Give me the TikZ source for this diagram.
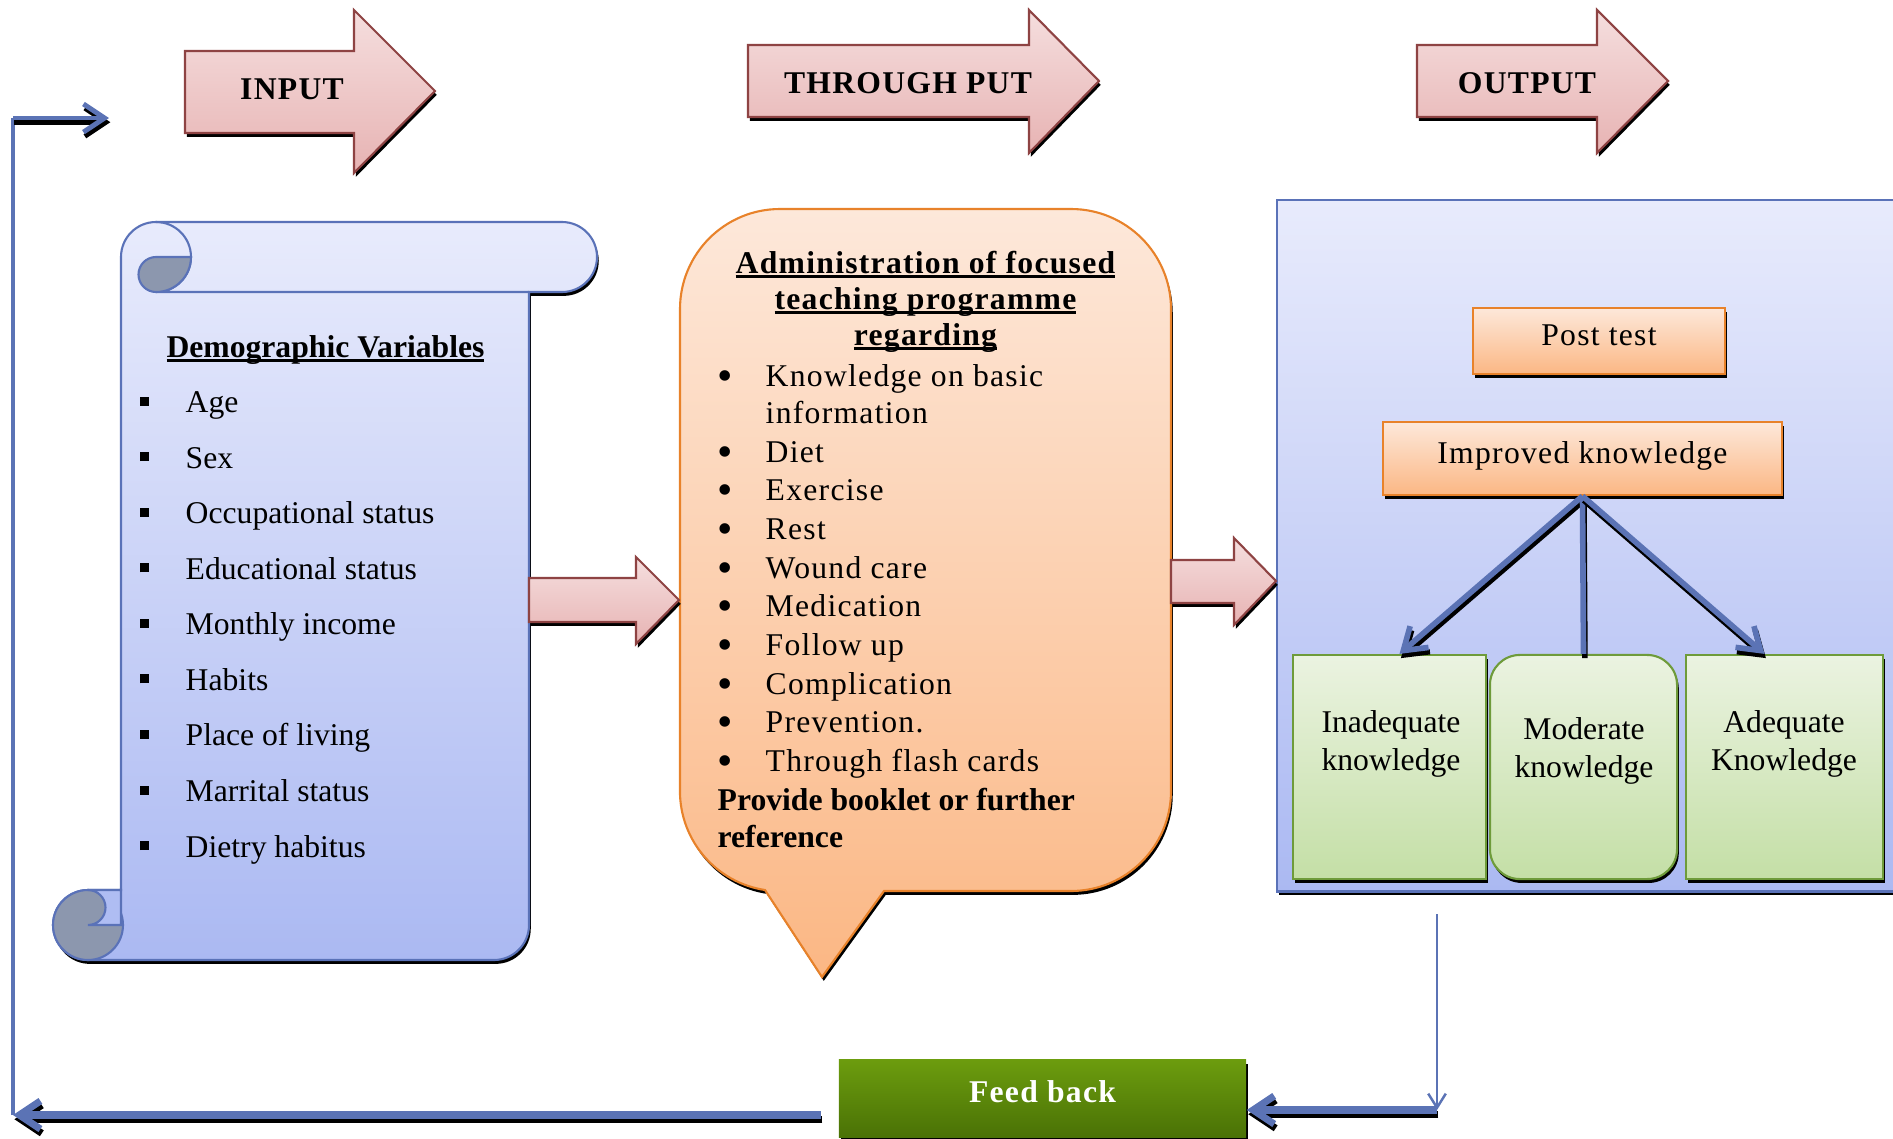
\documentclass[tikz,border=0pt]{standalone}
\usepackage{fontspec}
\setmainfont{Liberation Serif}
\newfontfamily\lsfont{Liberation Serif}[LetterSpace=4]
\usetikzlibrary{shadows, arrows.meta}

\definecolor{bluetop}{HTML}{E8EBFC}
\definecolor{bluebot}{HTML}{ABB9F2}
\definecolor{blueline}{HTML}{5A72B8}
\definecolor{curldark}{HTML}{8C97AE}
\definecolor{pinktop}{HTML}{F5DEDE}
\definecolor{pinkbot}{HTML}{E7B3B3}
\definecolor{pinkline}{HTML}{8E4343}
\definecolor{ortop}{HTML}{FDE8DA}
\definecolor{orbot}{HTML}{FBB784}
\definecolor{orline}{HTML}{E8822A}
\definecolor{grtop}{HTML}{EBF3E1}
\definecolor{grbot}{HTML}{C4DFA6}
\definecolor{grline}{HTML}{6E9B3A}
\definecolor{fbtop}{HTML}{6C9C0E}
\definecolor{fbbot}{HTML}{4A7206}
\definecolor{fbblue}{HTML}{5B73B5}

\newcommand{\ulin}[1]{\setbox0\hbox{#1}\rlap{\rule[-0.045cm]{\wd0}{0.03cm}}\box0}
\newcommand{\sqb}{\makebox[0.46cm][l]{\rule[0.07cm]{0.09cm}{0.09cm}}}
\newcommand{\bul}{\makebox[0.48cm][l]{\raisebox{-0.04cm}{\fontsize{12.5}{12}\selectfont\textbullet}}}

\tikzset{every picture/.append style={x=0.01cm, y=-0.01cm}}
\tikzset{
  blackshade/.style={drop shadow={shadow xshift=0.5pt, shadow yshift=-1.1pt,
      opacity=1, fill=black}},
  barb/.style={-{Straight Barb[length=6pt, width=8pt]}},
  linesh/.style={preaction={draw=black, line width=#1,
      transform canvas={shift={(0.4pt,-1.2pt)}}}},
  lineshb/.style={preaction={draw=black, line width=#1, barb,
      transform canvas={shift={(0.4pt,-1.2pt)}}}},
  pinkarrow/.style={draw=pinkline, line width=0.6pt, top color=pinktop,
      bottom color=pinkbot, blackshade},
  bluebox/.style={draw=blueline, line width=0.6pt, top color=bluetop,
      bottom color=bluebot, blackshade},
  orbox/.style={draw=orline, line width=0.6pt, top color=ortop,
      bottom color=orbot, blackshade, inner sep=0pt, text height=0.69em,
      text depth=0.42em, font=\lsfont\fontsize{9}{11}\selectfont},
  grbox/.style={draw=grline, line width=0.6pt, top color=grtop,
      bottom color=grbot, blackshade},
  fbbox/.style={top color=fbtop, bottom color=fbbot, blackshade, text=white,
      inner sep=0pt, text height=0.69em, text depth=0.47em,
      font=\lsfont\bfseries\fontsize{9}{11}\selectfont},
  fbline/.style={draw=fbblue, line width=#1},
  fbline/.default=1pt,
  lbl/.style={inner sep=0pt, font=\lsfont\bfseries\fontsize{9}{11}\selectfont},
  ktext/.style={inner sep=0pt, align=center, font=\fontsize{9}{10.8}\selectfont},
}

\begin{document}
\begin{tikzpicture}
  \useasboundingbox (0,0) rectangle (1893,1139);

  % top block arrows
  \draw[pinkarrow] (185,51) -- (354,51) -- (354,10) -- (435,91) -- (354,173)
    -- (354,133) -- (185,133) -- cycle;
  \draw[pinkarrow] (748,45) -- (1029,45) -- (1029,10) -- (1099,81)
    -- (1029,153) -- (1029,117) -- (748,117) -- cycle;
  \draw[pinkarrow] (1417,45) -- (1597,45) -- (1597,10) -- (1668,81)
    -- (1597,153) -- (1597,117) -- (1417,117) -- cycle;
  \node (inp) [lbl] at (292,89) {INPUT};
  \node (thru) [lbl] at (908,83) {THROUGH PUT};
  \node (outp) [lbl] at (1527,83) {OUTPUT};

  % scroll
  \draw[bluebox] (121,257) arc[start angle=180, end angle=270, radius=35]
    -- (562,222) arc[start angle=-90, end angle=90, radius=35]
    -- (529,292) -- (529,925) arc[start angle=0, end angle=90, radius=35]
    -- (88,960) arc[start angle=90, end angle=270, radius=35]
    -- (121,890) -- cycle;
  \draw[blueline, line width=0.6pt] (156,222)
    arc[start angle=-90, end angle=90, radius=35] -- (529,292);
  \filldraw[draw=blueline, fill=curldark, line width=0.6pt] (191,257) -- (156,257)
    arc[start angle=-90, end angle=-270, radius=17.5]
    arc[start angle=90, end angle=0, radius=35] -- cycle;
  \filldraw[draw=blueline, fill=curldark, line width=0.6pt] (88,925) circle[radius=35];
  \filldraw[draw=blueline, fill=bluebot!93!bluetop, line width=0.6pt] (88,890)
    -- (121,890) -- (121,925) -- (88,925)
    arc[start angle=90, end angle=-90, radius=17.5] -- cycle;
  \node (demo_h) [anchor=base, inner sep=0pt, font=\bfseries\fontsize{9}{11}\selectfont]
    at (325.5,357) {\ulin{Demographic Variables}};
  \node (demo_l) [anchor=north west, align=left, inner sep=0pt,
    font=\fontsize{9}{15.8}\selectfont] at (139,391)
    {\sqb Age\\\sqb Sex\\\sqb Occupational status\\\sqb Educational status\\
     \sqb Monthly income\\\sqb Habits\\\sqb Place of living\\\sqb Marrital status\\
     \sqb Dietry habitus};

  % callout
  \draw[draw=orline, line width=0.6pt, top color=ortop, bottom color=orbot, blackshade]
    (780,209) -- (1071,209) arc[start angle=-90, end angle=0, radius=100]
    -- (1171,791) arc[start angle=0, end angle=90, radius=100]
    -- (884,891) -- (822,977) -- (765,890)
    arc[start angle=98.6, end angle=180, radius=100]
    -- (680,309) arc[start angle=180, end angle=270, radius=100] -- cycle;
  \node (prog_h) [anchor=north, align=center, inner sep=0pt,
    font=\lsfont\bfseries\fontsize{9}{10.3}\selectfont] at (925.5,250.5)
    {\ulin{Administration of focused}\\\ulin{teaching programme}\\\ulin{regarding}};
  \node (prog_l) [anchor=north west, align=left, inner sep=0pt,
    font=\lsfont\fontsize{9}{11}\selectfont] at (717,363.5)
    {\bul Knowledge on basic\\[-0.4pt]\hspace*{0.48cm}information\\\bul Diet\\\bul Exercise\\
     \bul Rest\\\bul Wound care\\\bul Medication\\\bul Follow up\\\bul Complication\\
     \bul Prevention.\\\bul Through flash cards};
  \node (prog_b) [anchor=north west, align=left, inner sep=0pt,
    font=\bfseries\fontsize{9}{10.5}\selectfont] at (717,787.5)
    {Provide booklet or further\\reference};

  % middle block arrows
  \draw[pinkarrow] (529,578) -- (636,578) -- (636,557) -- (679,600) -- (636,644)
    -- (636,622) -- (529,622) -- cycle;

  % output
  \node (outbox) [bluebox, anchor=north west, inner sep=0pt, minimum width=6.4cm,
    minimum height=6.91cm] at (1276,199) {};
  \draw[pinkarrow] (1171,560) -- (1234,560) -- (1234,538) -- (1276,581) -- (1234,625)
    -- (1234,603) -- (1171,603) -- cycle;
  \node (post) [orbox, minimum width=2.52cm, minimum height=0.66cm] at (1599,341) {Post test};
  \node (impr) [orbox, minimum width=3.99cm, minimum height=0.73cm] at (1582.5,458.5)
    {Improved knowledge};
  \node (k_1) [grbox, minimum width=1.93cm, minimum height=2.24cm] at (1389.5,767) {};
  \node (k_2) [grbox, rounded corners=0.3cm, minimum width=1.87cm, minimum height=2.24cm]
    at (1583.5,767) {};
  \node (k_3) [grbox, minimum width=1.97cm, minimum height=2.24cm] at (1784.5,767) {};
  \node (k_1t) [ktext] at (1391,744) {Inadequate\\knowledge};
  \node (k_2t) [ktext] at (1584,751) {Moderate\\knowledge};
  \node (k_3t) [ktext] at (1784,744) {Adequate\\Knowledge};
  \draw[fbline=1.6pt, lineshb=1.6pt, barb] (impr.south) -- ([xshift=0.1cm]k_1.north);
  \draw[fbline=1.6pt, linesh=1.6pt] (impr.south) -- (k_2.north);
  \draw[fbline=1.6pt, lineshb=1.6pt, barb] (impr.south) -- ([xshift=-0.2cm]k_3.north);

  % feed back loop
  \node (fb) [fbbox, minimum width=4.07cm, minimum height=0.77cm] at (1042.5,1098.5)
    {Feed back};
  \coordinate (r_top) at (1437,914);
  \coordinate (r_bot) at (1437,1110);
  \coordinate (l_start) at (821,1115);
  \coordinate (l_bot) at (13,1115);
  \coordinate (l_top) at (13,118);
  \coordinate (l_end) at (109,118);
  \draw[fbline=0.7pt, -{Straight Barb[length=4pt, width=5pt]}] (r_top) -- (r_bot);
  \draw[fbline=2pt, lineshb=2pt, barb] (r_bot) -- (fb.east |- r_bot);
  \draw[fbline=2pt, lineshb=2pt, barb] (l_start) -- (l_bot);
  \draw[fbline=1.1pt] (l_bot) -- (l_top);
  \draw[fbline=1.4pt, lineshb=1.4pt, barb] (l_top) -- (l_end);
\end{tikzpicture}
\end{document}
